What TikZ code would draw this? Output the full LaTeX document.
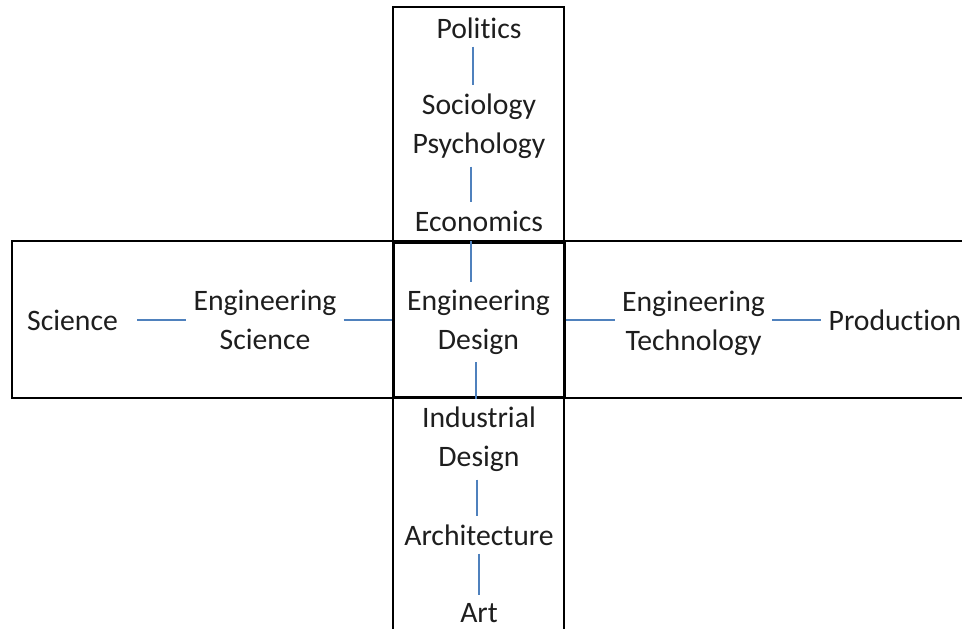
\documentclass[tikz,border=0pt]{standalone}
\usepackage{fontspec}
\setmainfont{Carlito}[Ligatures=NoCommon]
\definecolor{linkblue}{HTML}{4F81BD}
\definecolor{ink}{HTML}{1E1E1E}
\begin{document}
\begin{tikzpicture}
		[	x=1pt,y=-1pt,
		word/.style={text=ink,font=\fontsize{29.7}{39}\selectfont,align=center,inner xsep=7pt,inner ysep=8pt},
		frame/.style={draw=black,line width=1.6pt},
		core/.style={draw=black,line width=3pt,minimum width=171pt,minimum height=155pt,inner sep=0pt},
		link/.style={draw=linkblue,line width=1.3pt},
		]
		\clip (0,0) rectangle (962,629);
		\draw[frame] (393,7) rectangle (564,650);
		\draw[frame] (12,241) rectangle (980,398);
		\node[core,name=core] at (478.5,320){};

		\node[word,name=pol] at (479,28){Politics};
		\node[word,name=soc] at (479,126){Sociology\\Psychology};
		\node[word,name=eco] at (479,221){Economics};
		\node[word,name=des] at (478.5,322){Engineering\\Design};
		\node[word,name=ind] at (479,439){Industrial\\Design};
		\node[word,name=arc] at (479,535){Architecture};
		\node[word,name=art] at (479,613){Art};
		\node[word,name=sci] at (72.5,320){Science};
		\node[word,name=esc] at (265,320){Engineering\\Science};
		\node[word,name=etc] at (693.5,323){Engineering\\Technology};
		\node[word,name=pro] at (895,320){Production};

		\draw[link] ([xshift=-6pt]pol.south) -- ([xshift=-6pt]soc.north);
		\draw[link] ([xshift=-8pt]soc.south) -- ([xshift=-8pt]eco.north);
		\draw[link] ([xshift=-7.5pt]core.north) -- ([xshift=-7.5pt]des.north);
		\draw[link] ([xshift=-2.5pt]des.south) -- ([xshift=-2.5pt]core.south);
		\draw[link] ([xshift=-2pt]ind.south) -- ([xshift=-2pt]arc.north);
		\draw[link] (arc.south) -- (art.north);
		\draw[link,shorten <=12pt] (sci.east) -- (sci.east -| esc.west);
		\draw[link] (esc.east) -- (esc.east -| core.west);
		\draw[link] (core.east) -- (core.east -| etc.west);
		\draw[link] (pro.west -| etc.east) -- (pro.west);
	\end{tikzpicture}
\end{document}
